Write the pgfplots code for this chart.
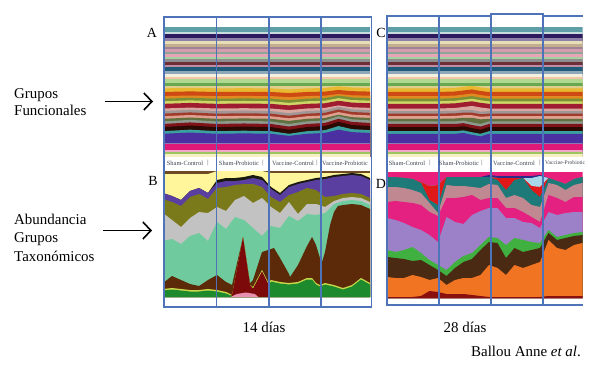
\documentclass[border=0pt]{standalone}
\usepackage{pgfplots}
\pgfplotsset{compat=1.18}
\usepackage{pgfplotstable}
\usetikzlibrary{arrows.meta}
\usepackage{fontspec}
\setmainfont{Liberation Serif}

% functional-group colours
\definecolor{f01}{HTML}{5F9EA6}\definecolor{f02}{HTML}{C8DCE0}\definecolor{f03}{HTML}{2E1A5C}
\definecolor{f04}{HTML}{8E80A8}\definecolor{f05}{HTML}{E6DEB4}\definecolor{f06}{HTML}{C4AE92}
\definecolor{f07}{HTML}{9E8494}\definecolor{f08}{HTML}{D49CAE}\definecolor{f09}{HTML}{8EA694}
\definecolor{f10}{HTML}{E6A6B8}\definecolor{f11}{HTML}{A6D09E}\definecolor{f12}{HTML}{8E8E8E}
\definecolor{f13}{HTML}{6E2E38}\definecolor{f14}{HTML}{BE8EA6}\definecolor{f15}{HTML}{1F5A78}
\definecolor{f16}{HTML}{8EA8BA}\definecolor{f17}{HTML}{F4F0E0}\definecolor{f18}{HTML}{F0C6A6}
\definecolor{f19}{HTML}{B0D890}\definecolor{f20}{HTML}{68A850}\definecolor{f21}{HTML}{DECE8E}
\definecolor{f22}{HTML}{E8B830}\definecolor{f23}{HTML}{CF4A12}\definecolor{f24}{HTML}{E08A22}
\definecolor{f25}{HTML}{7A9032}\definecolor{f26}{HTML}{CED668}\definecolor{f27}{HTML}{A01C30}
\definecolor{f28}{HTML}{D8A8A0}\definecolor{f29}{HTML}{A09696}\definecolor{f30}{HTML}{A03A2A}
\definecolor{f31}{HTML}{E0A090}\definecolor{f32}{HTML}{60703E}\definecolor{f33}{HTML}{8E9A90}
\definecolor{f34}{HTML}{80121A}\definecolor{f35}{HTML}{2A0A02}\definecolor{f36}{HTML}{3AA0A0}
\definecolor{f37}{HTML}{4A30A0}\definecolor{f38}{HTML}{8C78B4}\definecolor{f39}{HTML}{E01878}
\definecolor{f40}{HTML}{F0A8C4}\definecolor{f41}{HTML}{9CC460}\definecolor{f42}{HTML}{F6F0C4}
% taxonomic colours, 14 days
\definecolor{t00}{HTML}{6B4A24}\definecolor{t01}{HTML}{FFF59A}\definecolor{t02}{HTML}{1A1A10}
\definecolor{t03}{HTML}{5B3FA0}\definecolor{t04}{HTML}{7B7A1A}\definecolor{t05}{HTML}{C2C2C2}
\definecolor{t06}{HTML}{6FCB9D}\definecolor{t07}{HTML}{5C2A08}\definecolor{t08}{HTML}{C8DA4A}
\definecolor{t09}{HTML}{7D0A0A}\definecolor{t10}{HTML}{1E8A2E}\definecolor{t11}{HTML}{E890B0}
% taxonomic colours, 28 days
\definecolor{d00}{HTML}{E8207C}\definecolor{d01}{HTML}{2A2A8A}\definecolor{d02}{HTML}{A8D8E8}
\definecolor{d03}{HTML}{E01818}\definecolor{d04}{HTML}{1E7A78}\definecolor{d05}{HTML}{C08890}
\definecolor{d06}{HTML}{E42080}\definecolor{d07}{HTML}{9C80C8}\definecolor{d08}{HTML}{40B040}
\definecolor{d09}{HTML}{4A2A12}\definecolor{d10}{HTML}{F07422}\definecolor{d11}{HTML}{8A1010}
\definecolor{boxblue}{HTML}{4F73B8}
\definecolor{lbl}{HTML}{3E4250}

\pgfplotstableread{
s b22 b23 b24 b25 b26 b27 b28 b29 b30 b31 b32 b33 b34 b35 b36 b37
0 70.5 67 63 60.5 58 55.5 51 48.5 46 43.5 41 38.5 36 33 29 26.5
3 71.1 67.6 63.6 61.4 58.9 56.4 51.9 49.7 47.2 44.7 42.2 40 37.5 34.5 30.5 27.7
6 70.5 67 63 60.5 58 55.5 51 48.5 46 43.5 41 38.5 36 33 29 26.5
9 70.7 67.2 63.2 60.8 58.3 55.8 51.3 48.9 46.4 43.9 41.4 39 36.5 33.5 29.5 26.9
12 70.5 67 63 60.5 58 55.5 51 48.5 46 43.5 41 38.5 36 33 29 26.5
14 69.5 66 62 59 56.5 54 49.5 46.5 44 41.5 39 36 33.5 30.5 26.5 24.5
16 70.5 67 63 60.5 58 55.5 51 48.5 46 43.5 41 38.5 36 33 29 26.5
18 70.9 67.4 63.4 61.1 58.6 56.1 51.6 49.3 46.8 44.3 41.8 39.5 37 34 30 27.3
19.5 72.5 69 65 63.5 61 58.5 54 52.5 50 47.5 45 43.5 41 38 34 30.5
21 71.3 67.8 63.8 61.7 59.2 56.7 52.2 50.1 47.6 45.1 42.6 40.5 38 35 31 28.1
23 70.9 67.4 63.4 61.1 58.6 56.1 51.6 49.3 46.8 44.3 41.8 39.5 37 34 30 27.3
}\Awave

\pgfplotstableread{
s b22 b23 b24 b25 b26 b27 b28 b29 b30 b31 b32 b33 b34 b35 b36 b37
0 70.5 67 63 60.5 58 55.5 51 48.5 46 43.5 41 38.5 36 33 29 26.5
6 70.5 67 63 60.5 58 55.5 51 48.5 46 43.5 41 38.5 36 33 29 26.5
8 71 67.5 63.5 61 58.5 56 51.5 48.8 46.3 43.8 41.3 38.5 36 33 29 26.5
9 72 68.5 64.5 62 59.5 57 52.5 49.5 47 44.5 42 39.3 36.8 33.8 29.8 27.3
10 73 69.5 65.5 63 60.5 58 53.5 49.5 47 44.5 42 37.5 35 32 28 25.5
11 71.5 68 64 61.5 59 56.5 52 48 45.5 43 40.5 36 33.5 30.5 26.5 24
12 70.5 67 63 60.5 58 55.5 51 48.5 46 43.5 41 38.5 36 33 29 26.5
23 70.5 67 63 60.5 58 55.5 51 48.5 46 43.5 41 38.5 36 33 29 26.5
}\Cwave

\pgfplotstableread{
j d1 d2 d3 d4 d5 d6 d7 d8 d9 d10 d11
0 121 121 121 121 111 96 80 48 41 21 1
1 121 121 121 121 111 97 78 46 40 20 1
2 120 120 120 120 110 96 75 48 39 20 1
3 119 119 119 119 108 95 71 51 37 23 1
4 116 116 116 115 105 93 68 45 38 21 2
5 112 112 112 98 95 86 63 38 33 18 7
6 113 113 113 93 85 82 56 33 28 20 6
7 121 121 121 121 113 100 81 28 22 13 4
8 121 121 121 121 112 100 76 36 30 18 4
9 121 121 121 121 112 101 74 42 36 20 4
10 121 121 121 121 111 103 83 45 39 20 3
11 121 121 121 121 110 98 87 53 48 23 2
12 123 121 121 121 114 100 90 61 56 33 1
13 122 120 120 118 113 100 90 60 55 30 1
14 122 120 120 108 100 90 80 53 40 23 1
15 122 120 120 118 103 90 80 60 50 33 1
16 122 120 120 120 100 86 76 58 46 30 1
17 122 120 112 108 93 81 75 56 48 33 1
18 123 122 111 101 91 76 70 55 50 36 1
19 120 120 120 120 115 103 86 68 65 58 2
20 117 117 117 117 113 100 83 61 58 50 2
21 114 114 114 114 108 96 85 63 60 48 2
22 119 119 119 119 113 101 86 65 62 53 2
23 121 121 121 121 115 101 86 66 63 55 2
}\Dtab

\pgfplotsset{strm/.style={hide axis, scale only axis, enlargelimits=false, clip=true,
  xmin=0, xmax=23, ymin=0, anchor=south west}}
\newcommand\band[2]{\addplot[fill=#1,draw=none] coordinates {#2} \closedcycle;}
\newcommand\flt[2]{\addplot[fill=#1,draw=none] coordinates {(0,#2) (23,#2)} \closedcycle;}
\newcommand\wav[3]{\addplot[fill=#1,draw=none] table[x=s,y=#2]{#3} \closedcycle;}
\newcommand\dly[2]{\addplot[fill=#1,draw=none] table[x=j,y=#2]{\Dtab} \closedcycle;}
\newcommand\funcbands[1]{%
\flt{f01}{130}\flt{f02}{125}\flt{f03}{123.5}\flt{f04}{119}\flt{f05}{116.5}%
\flt{f06}{114}\flt{f07}{111}\flt{f08}{108.5}\flt{f09}{106}\flt{f10}{103.5}%
\flt{f11}{101}\flt{f12}{98.5}\flt{f13}{96}\flt{f14}{93.5}\flt{f15}{91}%
\flt{f16}{87}\flt{f17}{84.5}\flt{f18}{82}\flt{f19}{79.5}\flt{f20}{76}\flt{f21}{73}%
\wav{f22}{b22}{#1}\wav{f23}{b23}{#1}\wav{f24}{b24}{#1}\wav{f25}{b25}{#1}%
\wav{f26}{b26}{#1}\wav{f27}{b27}{#1}\wav{f28}{b28}{#1}\wav{f29}{b29}{#1}%
\wav{f30}{b30}{#1}\wav{f31}{b31}{#1}\wav{f32}{b32}{#1}\wav{f33}{b33}{#1}%
\wav{f34}{b34}{#1}\wav{f35}{b35}{#1}\wav{f36}{b36}{#1}\wav{f37}{b37}{#1}%
\flt{f38}{17.5}\flt{f39}{16.5}\flt{f40}{11}\flt{f41}{9}\flt{f42}{6.5}}

\begin{document}
\begin{tikzpicture}[x=1bp,y=1bp]
\path[use as bounding box] (0,0) rectangle (590,368);

% A: functional groups, 14 days
\begin{axis}[strm, at={(163bp,211bp)}, width=207bp, height=130bp, ymax=130, ymin=4]
\funcbands{\Awave}
\end{axis}
% C: functional groups, 28 days
\begin{axis}[strm, at={(387bp,211bp)}, width=195.5bp, height=130bp, ymax=130, ymin=4]
\funcbands{\Cwave}
\end{axis}

% B: taxonomic abundance, 14 days
\begin{axis}[strm, at={(163bp,71bp)}, width=207bp, height=126bp, ymax=126]
\flt{t00}{126}
\band{t01}{(0,123)(5,123)(6,126)(11,126)(12,124)(23,124)}
\band{t02}{(0,104)(1,101)(2,97)(3,106)(4,109)(5,104)(6,117)(7,119)(8,119)(9,120)(10,122)(11,120)(12,110)(13,104)(14,112)(15,115)(16,117)(17,119)(18,120)(19,122)(20,123)(21,124)(22,123)(23,119)}
\band{t03}{(0,104)(1,101)(2,97)(3,106)(4,109)(5,104)(6,114)(7,116)(8,116)(9,117)(10,119)(11,117)(12,108)(13,102)(14,110)(15,113)(16,115)(17,117)(18,118)(19,120)(20,121)(21,122)(22,121)(23,117)}
\band{t04}{(0,98)(1,95)(2,91)(3,100)(4,103)(5,98)(6,109)(7,110)(8,112)(9,113)(10,113)(11,110)(12,100)(13,95)(14,102)(15,105)(16,109)(17,107)(18,100)(19,101)(20,103)(21,104)(22,103)(23,99)}
\band{t05}{(0,84)(1,77)(2,70)(3,79)(4,85)(5,84)(6,90)(7,86)(8,97)(9,101)(10,94)(11,99)(12,90)(13,84)(14,95)(15,83)(16,93)(17,93)(18,90)(19,96)(20,99)(21,100)(22,99)(23,95)}
\band{t06}{(0,56)(1,58)(2,53)(3,61)(4,64)(5,56)(6,75)(7,68)(8,80)(9,77)(10,69)(11,61)(12,71)(13,69)(14,81)(15,76)(16,83)(17,82)(18,84)(19,93)(20,96)(21,97)(22,96)(23,92)}
\band{t07}{(0,14)(1,21)(2,17)(3,13)(4,11)(5,17)(6,22)(7,15)(7.67,12)(8.89,60)(9.67,14)(10,17)(11,45)(11.67,47)(12.33,49)(13,39)(14,23)(14.11,20)(15,32)(16,51)(16.56,60)(17,52)(17.44,39)(17.67,35)(18,45)(18.56,72)(19,85)(19.44,91)(20,92)(21,93)(22,92)(23,88)}
\band{t08}{(0,8)(1,9)(2,8)(3,7)(4,7)(5,8)(6,7)(7,5)(7.67,2)(8.89,60)(9.67,12)(10,10)(11,27)(11.67,15)(12,17)(13,15)(14,14)(15,15)(16,19)(16.56,19)(17,14)(17.44,12)(18,14)(19,12)(20,9)(21,12)(22,19)(23,14)}
\band{t09}{(7.4,0)(7.67,2)(8.89,60)(9.67,12)(10,8.5)(11,25.5)(11.67,13.5)(11.9,0)}
\band{t10}{(0,6.5)(1,7.5)(2,6.5)(3,5.5)(4,5.5)(5,6.5)(6,5.5)(7,3.5)(7.67,1)(8,0)(11.67,0)(11.9,14)(12,15.5)(13,13.5)(14,12.5)(15,13.5)(16,17.5)(16.56,17.5)(17,12.5)(17.44,10.5)(18,12.5)(19,10.5)(20,7.5)(21,10.5)(22,17.5)(23,12.5)}
\band{t11}{(7.5,0)(8.2,3)(9.2,4.5)(10.2,3)(10.6,0)}
\end{axis}

% D: taxonomic abundance, 28 days
\begin{axis}[strm, at={(387bp,70bp)}, width=195.5bp, height=126bp, ymax=126]
\flt{d00}{126}
\dly{d01}{d1}\dly{d02}{d2}\dly{d03}{d3}\dly{d04}{d4}\dly{d05}{d5}\dly{d06}{d6}
\dly{d07}{d7}\dly{d08}{d8}\dly{d09}{d9}\dly{d10}{d10}\dly{d11}{d11}
\end{axis}

% group frames
\begin{scope}[draw=boxblue, line width=1.4bp]
\draw (164,61) rectangle (216.5,351);
\draw (216.5,61) rectangle (269,351);
\draw (269,61) rectangle (321,351);
\draw (321,61) rectangle (371.5,351);
\draw (387,63) rectangle (439,352);
\draw (439,63) rectangle (491,352);
\draw (491,63) rectangle (543,354);
\draw (583,63) -- (543,63) -- (543,352) -- (583,352);
\end{scope}

% group labels
\begin{scope}[every node/.style={font=\fontsize{6.4}{7}\selectfont, text=lbl, inner sep=0pt}]
\node at (185,205) {Sham-Control};
\node at (208,205) {|};
\node at (239,205) {Sham-Probiotic};
\node at (263,205) {|};
\node at (293,205) {Vaccine-Control};
\node at (317,205) {|};
\node at (345,205) {Vaccine-Probiotic};
\node at (407,205) {Sham-Control};
\node at (430,205) {|};
\node at (459,205) {Sham-Probiotic};
\node at (482,205) {|};
\node at (514,205) {Vaccine-Control};
\node at (540,205) {|};
\node[anchor=west, font=\fontsize{5.6}{6}\selectfont] at (545,205) {Vaccine-Probiotic};
\end{scope}

% panel letters
\begin{scope}[every node/.style={font=\fontsize{14}{16}\selectfont, anchor=base, inner sep=0pt}]
\node at (152,331) {A};
\node at (381,331) {C};
\node at (153,183) {B};
\node at (381,180) {D};
\end{scope}

% side labels and arrows
\begin{scope}[every node/.style={font=\fontsize{15}{17}\selectfont, anchor=base west, inner sep=0pt}]
\node at (14,270) {Grupos};
\node at (14,253) {Funcionales};
\node at (14,144) {Abundancia};
\node at (14,126) {Grupos};
\node at (14,107) {Taxonómicos};
\end{scope}
\draw[line width=1.6bp, -{Straight Barb[length=8bp,width=17bp,line width=1.6bp]}] (105,266.5) -- (153,266.5);
\draw[line width=1.6bp, -{Straight Barb[length=8bp,width=17bp,line width=1.6bp]}] (103,137.5) -- (152,137.5);

% bottom captions
\node[font=\fontsize{15}{17}\selectfont, anchor=base, inner sep=0pt] at (264,36) {14 días};
\node[font=\fontsize{15}{17}\selectfont, anchor=base, inner sep=0pt] at (465,36) {28 días};
\node[font=\fontsize{15}{17}\selectfont, anchor=base east, inner sep=0pt] at (581,12) {Ballou Anne \textit{et al}.};
\end{tikzpicture}
\end{document}
